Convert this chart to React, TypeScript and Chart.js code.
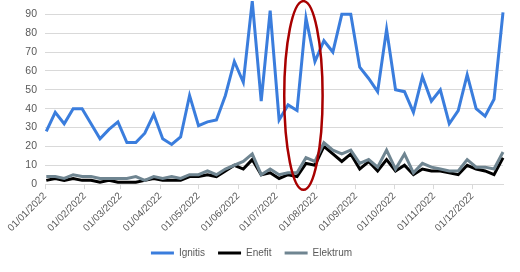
import React, { useEffect, useRef } from "react";
import { Chart, registerables } from "chart.js";

Chart.register(...registerables);

// Weekly observation dates
const weeks = [
  "2022-01-02", "2022-01-09", "2022-01-16", "2022-01-23", "2022-01-30",
  "2022-02-06", "2022-02-13", "2022-02-20", "2022-02-27",
  "2022-03-06", "2022-03-13", "2022-03-20", "2022-03-27",
  "2022-04-03", "2022-04-10", "2022-04-17", "2022-04-24",
  "2022-05-01", "2022-05-08", "2022-05-15", "2022-05-22", "2022-05-29",
  "2022-06-05", "2022-06-12", "2022-06-19", "2022-06-26",
  "2022-07-03", "2022-07-10", "2022-07-17", "2022-07-24", "2022-07-31",
  "2022-08-07", "2022-08-14", "2022-08-21", "2022-08-28",
  "2022-09-04", "2022-09-11", "2022-09-18", "2022-09-25",
  "2022-10-02", "2022-10-09", "2022-10-16", "2022-10-23", "2022-10-30",
  "2022-11-06", "2022-11-13", "2022-11-20", "2022-11-27",
  "2022-12-04", "2022-12-11", "2022-12-18", "2022-12-25",
];

const monthTicks = [
  "01/01/2022", "01/02/2022", "01/03/2022", "01/04/2022", "01/05/2022", "01/06/2022",
  "01/07/2022", "01/08/2022", "01/09/2022", "01/10/2022", "01/11/2022", "01/12/2022",
];

const ignitis = [
  28, 38, 32, 40, 40, 32, 24, 29, 33, 22, 22, 27, 37,
  24, 21, 25, 47, 31, 33, 34, 47, 65, 54, 97, 44, 92,
  34, 42, 39, 88, 65, 76, 70, 90, 90, 62, 56, 49, 82,
  50, 49, 38, 57, 44, 50, 32, 39, 58, 40, 36, 45, 91,
];

const enefit = [
  2, 3, 2, 3, 2, 2, 1, 2, 1, 1, 1, 2, 3,
  2, 2, 2, 4, 4, 5, 4, 7, 10, 8, 13, 5, 6,
  3, 5, 4, 11, 10, 20, 16, 12, 16, 8, 12, 7, 13,
  7, 10, 5, 8, 7, 7, 6, 5, 10, 8, 7, 5, 14,
];

const elektrum = [
  4, 4, 3, 5, 4, 4, 3, 3, 3, 3, 4, 2, 4,
  3, 4, 3, 5, 5, 7, 5, 8, 10, 12, 16, 5, 8,
  5, 6, 6, 14, 12, 22, 18, 16, 18, 11, 13, 9, 18,
  8, 16, 6, 11, 9, 8, 7, 7, 13, 9, 9, 8, 17,
];

const seriesNames = ["Ignitis", "Enefit", "Elektrum"];

// Highlight ellipse (in data terms)
const highlightDate = "2022-07-22";
const highlightValue = 47;
const highlightHalfDays = 15;
const highlightHalfValue = 50;

const DAY = 86400000;
const ORIGIN = Date.UTC(2022, 0, 1);
const isoDay = (s: string) => {
  const [y, m, d] = s.split("-").map(Number);
  return (Date.UTC(y, m - 1, d) - ORIGIN) / DAY;
};
const dmyDay = (s: string) => {
  const [d, m, y] = s.split("/").map(Number);
  return (Date.UTC(y, m - 1, d) - ORIGIN) / DAY;
};

const FONT = "'Liberation Sans', Arial, sans-serif";
const TEXT = "#595959";
const GRID = "#D9D9D9";

const ellipsePlugin = {
  id: "highlightEllipse",
  afterDatasetsDraw(chart: any) {
    const { ctx } = chart;
    const x = chart.scales.x;
    const y = chart.scales.y;
    const cd = isoDay(highlightDate);
    const cx = x.getPixelForValue(cd);
    const cy = y.getPixelForValue(highlightValue);
    const rx = Math.abs(x.getPixelForValue(cd + highlightHalfDays) - cx);
    const ry = Math.abs(y.getPixelForValue(highlightValue + highlightHalfValue) - cy);
    ctx.save();
    ctx.beginPath();
    ctx.ellipse(cx, cy, rx, ry, 0, 0, Math.PI * 2);
    ctx.strokeStyle = "#A80000";
    ctx.lineWidth = 2.5;
    ctx.stroke();
    ctx.restore();
  },
};

export default function App() {
  const ref = useRef<HTMLCanvasElement | null>(null);

  useEffect(() => {
    if (!ref.current) return;
    const xs = weeks.map(isoDay);
    const tickDays = monthTicks.map(dmyDay);
    const mk = (vals: number[]) => vals.map((v, i) => ({ x: xs[i], y: v }));
    const colors = ["#3A7DDD", "#000000", "#6F8591"];
    const values = [ignitis, enefit, elektrum];
    const orders = [2, 1, 0];

    const chart = new Chart(ref.current, {
      type: "line",
      data: {
        datasets: seriesNames.map((name, k) => ({
          label: name,
          data: mk(values[k]),
          borderColor: colors[k],
          backgroundColor: colors[k],
          borderWidth: 3,
          pointRadius: 0,
          tension: 0,
          fill: false,
          clip: false as any,
          order: orders[k],
        })),
      },
      options: {
        animation: false,
        responsive: true,
        maintainAspectRatio: false,
        layout: { padding: { left: 0, right: 17, top: 12, bottom: 4 } },
        plugins: {
          tooltip: { enabled: false },
          legend: {
            position: "bottom",
            labels: {
              boxWidth: 23,
              boxHeight: 3,
              padding: 13,
              color: TEXT,
              font: { family: FONT, size: 10 },
              sort: (a: any, b: any) => a.datasetIndex - b.datasetIndex,
              generateLabels: (c: any) =>
                Chart.defaults.plugins.legend.labels
                  .generateLabels(c)
                  .map((it: any) => ({ ...it, lineWidth: 0 })),
            },
          },
        },
        scales: {
          x: {
            type: "linear",
            min: 0,
            max: xs[xs.length - 1],
            afterBuildTicks: (scale: any) => {
              scale.ticks = tickDays.map((v) => ({ value: v }));
            },
            ticks: {
              autoSkip: false,
              maxRotation: 45,
              minRotation: 45,
              padding: 1,
              color: TEXT,
              font: { family: FONT, size: 10 },
              callback: (_v: any, i: number) => monthTicks[i],
            },
            grid: {
              drawOnChartArea: false,
              drawTicks: true,
              tickLength: 5,
              color: GRID,
            },
            border: { display: true, color: GRID },
          },
          y: {
            min: 0,
            max: 90,
            afterFit: (scale: any) => {
              scale.width = 45;
            },
            ticks: {
              stepSize: 10,
              padding: 8,
              color: TEXT,
              font: { family: FONT, size: 10.5 },
            },
            grid: { color: GRID, drawTicks: false },
            border: { display: false },
          },
        },
      },
      plugins: [ellipsePlugin],
    });
    return () => chart.destroy();
  }, []);

  return (
    <div style={{ position: "fixed", left: 0, top: 0, width: 520, height: 272, background: "#fff" }}>
      <canvas ref={ref} />
    </div>
  );
}
